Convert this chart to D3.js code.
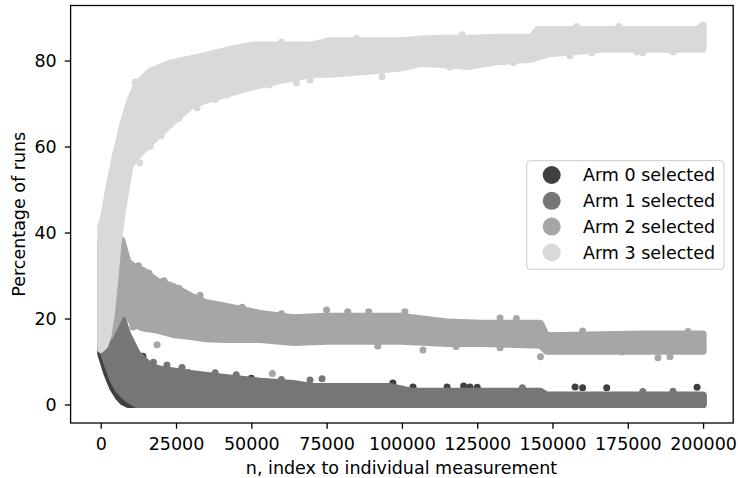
<!DOCTYPE html>
<html><head><meta charset="utf-8">
<script src="https://cdn.jsdelivr.net/npm/d3@7"></script>
<style>body{margin:0;background:#fff} svg{display:block} text{font-family:"DejaVu Sans",sans-serif;fill:#000}</style>
</head><body><svg id="c" width="738" height="478"></svg>
<script>
// ---- data ----
const armLabels = ["Arm 0 selected", "Arm 1 selected", "Arm 2 selected", "Arm 3 selected"];
const armColors = ["#404043", "#767679", "#a6a6a9", "#d9d9db"];

// envelope of the dense point clouds: [n, lowest %, highest %]
const arm0Band = [
  [0, 11.8, 36], [2000, 7.3, 36], [4000, 3.8, 35], [6000, 1.6, 34], [7400, 0.6, 18.5],
  [9000, 0, 15.5], [12000, 0, 11.5], [16500, 0, 8.5], [20000, 0, 7.8], [30000, 0, 6.8],
  [53000, 0, 5], [70000, 0, 4], [103000, 0, 2.8], [146000, 0, 2.8], [148000, 0, 2], [200000, 0, 2]
];
const arm1Band = [
  [0, 13.8, 37.2], [2000, 9.8, 37.2], [4000, 5.8, 36.2], [6000, 3.3, 35.2], [7400, 2.3, 19.6],
  [9000, 1.3, 16.2], [12000, 0, 12.0], [16500, 0, 8.9], [20000, 0, 8.2], [30000, 0, 7.2],
  [36000, 0, 6.7], [53000, 0, 5.4], [64000, 0, 4.9], [70000, 0, 4.2], [96000, 0, 4.2],
  [103000, 0, 3.1], [146000, 0, 3.1], [148000, 0, 2.2], [200000, 0, 2.2]
];
const arm2Band = [
  [0, 13.8, 37.7], [3000, 15.8, 37.7], [7000, 21.5, 38.2], [7400, 21.5, 37.2], [9000, 20.8, 33.2],
  [10700, 18.8, 32.2], [14000, 17.8, 31.2], [18700, 17.3, 28.7], [24000, 16.3, 27.5],
  [30000, 15.8, 25.2], [35000, 15.3, 23.7], [41000, 15.1, 22.9], [53000, 15.1, 21.2],
  [64000, 14.4, 20.2], [75000, 14.7, 20.5], [100000, 14.7, 20.5], [115000, 14.2, 19.2],
  [126000, 14.2, 18.9], [146000, 13.8, 18.9], [148000, 12.4, 16.0], [180000, 12.4, 16.4],
  [200000, 12.4, 16.4]
];
const arm3Band = [
  [0, 12.8, 41.2], [800, 13.3, 43.2], [1400, 13.8, 45.2], [2400, 16.0, 49.2], [3700, 22.0, 53.8],
  [4800, 30.0, 57.7], [5700, 37.0, 60.2], [7000, 44.0, 64.2], [8000, 48.4, 66.7], [9700, 55.4, 70.7],
  [11400, 57.3, 73.5], [13000, 58.3, 75.2], [16400, 60.8, 77.5], [23000, 65.1, 79.4],
  [29700, 69.3, 80.4], [35000, 70.8, 81.2], [43000, 72.4, 82.6], [50000, 73.8, 83.6],
  [56000, 74.8, 83.6], [63000, 75.8, 83.6], [70000, 76.8, 83.6], [76000, 76.8, 84.6],
  [89000, 77.5, 84.6], [100000, 78.3, 84.6], [106000, 79.3, 85.0], [113000, 79.1, 85.2],
  [122000, 78.6, 85.2], [132000, 79.8, 85.4], [143000, 80.3, 85.4], [145000, 80.8, 87.2],
  [149000, 81.6, 87.2], [166000, 82.6, 87.2], [198000, 82.6, 87.2], [200000, 82.6, 88.2]
];

// isolated points standing out of the clouds: [n, %]
const arm0Dots = [
  [11400, 12.3], [14000, 11.2], [29000, 7.4], [50000, 6.1], [85000, 4.1], [88400, 4.1],
  [97000, 5.0], [103700, 4.1], [115000, 4.1], [120500, 4.3], [122600, 4.1], [125000, 4.0],
  [157500, 4.1], [160000, 3.9], [168000, 3.9], [198000, 4.0]
];
const arm1Dots = [
  [69500, 5.7], [73500, 6.0], [27000, 8.6], [45000, 6.9], [17500, 9.8], [22000, 9.2],
  [38000, 7.4], [60000, 5.8], [140000, 3.9], [180000, 3.0], [190000, 3.1]
];
const arm2Dots = [
  [10700, 18.0], [18700, 13.9], [57000, 7.2], [75000, 22.0], [82000, 21.6], [89000, 21.6],
  [101000, 21.6], [107000, 12.7], [132600, 13.2], [132600, 20.1], [138000, 20.0],
  [146000, 11.1], [173000, 12.2], [185000, 10.9], [189000, 11.1], [12500, 32.3],
  [16000, 30.6], [21000, 28.8], [26000, 27.0], [33000, 25.4], [47000, 22.6], [60000, 21.1],
  [92000, 13.6], [118000, 13.5], [160000, 17.1], [195000, 17.0]
];
const arm3Dots = [
  [760, 42.3], [11400, 75.0], [13000, 56.2], [16400, 60.0], [32000, 69.0], [42000, 72.0],
  [46000, 73.2], [56000, 74.3], [65000, 74.8], [69500, 75.5], [93400, 76.2], [116000, 78.5],
  [129000, 79.4], [133600, 79.7], [137000, 79.5], [155800, 81.1], [163000, 81.8],
  [178000, 82.0], [180000, 81.8], [190000, 82.0], [158000, 87.9], [172000, 87.9], [200000, 88.2],
  [20000, 62.5], [26000, 66.5], [38000, 71.0], [60000, 84.3], [85000, 85.2], [120000, 86.0]
];

const xTicks = [0, 25000, 50000, 75000, 100000, 125000, 150000, 175000, 200000];
const yTicks = [0, 20, 40, 60, 80];
const xTitle = "n, index to individual measurement";
const yTitle = "Percentage of runs";

// ---- drawing ----
const bands = [arm0Band, arm1Band, arm2Band, arm3Band];
const dots = [arm0Dots, arm1Dots, arm2Dots, arm3Dots];

const box = {left: 70.6, right: 733.2, top: 5.5, bottom: 423};
const x = d3.scaleLinear().domain([-10000, 210000]).range([box.left, box.right]);
const y = d3.scaleLinear().domain([-4.3, 92.8]).range([box.bottom, box.top]);
const R = 3.5;
const FS = 17.5;

const svg = d3.select("#c");
svg.append("defs").append("clipPath").attr("id", "clip")
  .append("rect").attr("x", box.left).attr("y", box.top)
  .attr("width", box.right - box.left).attr("height", box.bottom - box.top);

const plot = svg.append("g").attr("clip-path", "url(#clip)");
const area = d3.area().x(d => x(d[0])).y0(d => y(d[1])).y1(d => y(d[2]));

bands.forEach((band, i) => {
  const g = plot.append("g");
  g.append("path").datum(band).attr("d", area)
    .attr("fill", armColors[i]).attr("stroke", armColors[i])
    .attr("stroke-width", 2 * R).attr("stroke-linejoin", "round").attr("stroke-linecap", "round");
  g.selectAll("circle").data(dots[i]).join("circle")
    .attr("cx", d => x(d[0])).attr("cy", d => y(d[1])).attr("r", R).attr("fill", armColors[i]);
});

// axes
const xAxis = d3.axisBottom(x).tickValues(xTicks).tickFormat(d3.format("d")).tickSize(5.8).tickPadding(8.7);
const yAxis = d3.axisLeft(y).tickValues(yTicks).tickFormat(d3.format("d")).tickSize(5.8).tickPadding(8.1);
const gx = svg.append("g").attr("transform", `translate(0,${box.bottom})`).call(xAxis);
const gy = svg.append("g").attr("transform", `translate(${box.left},0)`).call(yAxis);
[gx, gy].forEach(g => {
  g.select(".domain").remove();
  g.selectAll(".tick line").attr("stroke", "#000").attr("stroke-width", 1.3);
  g.selectAll(".tick text").attr("font-size", FS).attr("font-family", "DejaVu Sans").attr("fill", "#000");
});

svg.append("rect").attr("x", box.left).attr("y", box.top)
  .attr("width", box.right - box.left).attr("height", box.bottom - box.top)
  .attr("fill", "none").attr("stroke", "#000").attr("stroke-width", 1.3);

svg.append("text").attr("x", 401.5).attr("y", 474)
  .attr("text-anchor", "middle").attr("font-size", FS).text(xTitle);
svg.append("text").attr("transform", `translate(25,${(box.top + box.bottom) / 2}) rotate(-90)`)
  .attr("text-anchor", "middle").attr("font-size", FS).text(yTitle);

// legend
const lg = svg.append("g");
lg.append("rect").attr("x", 526.7).attr("y", 160.7).attr("width", 197.3).attr("height", 108.6)
  .attr("rx", 3.5).attr("fill", "#fff").attr("fill-opacity", 0.8).attr("stroke", "#cccccc").attr("stroke-width", 1);
armLabels.forEach((lab, i) => {
  const cy = 175 + i * 25.8;
  lg.append("circle").attr("cx", 551.7).attr("cy", cy).attr("r", 9).attr("fill", armColors[i]);
  lg.append("text").attr("x", 583).attr("y", cy).attr("dy", "0.35em").attr("font-size", FS).text(lab);
});
</script>
</body></html>
